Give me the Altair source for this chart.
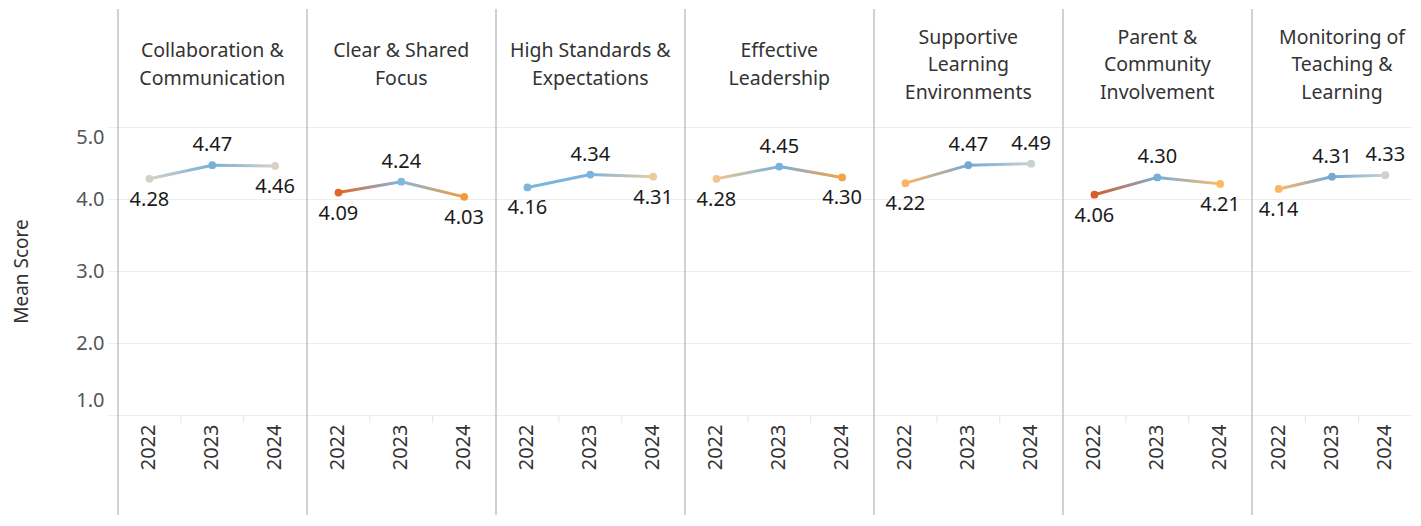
import altair as alt
import pandas as pd

categories = [
    "Collaboration &\nCommunication",
    "Clear & Shared\nFocus",
    "High Standards &\nExpectations",
    "Effective\nLeadership",
    "Supportive\nLearning\nEnvironments",
    "Parent &\nCommunity\nInvolvement",
    "Monitoring of\nTeaching &\nLearning",
]
years = ["2022", "2023", "2024"]
score_2022 = [4.28, 4.09, 4.16, 4.28, 4.22, 4.06, 4.14]
score_2023 = [4.47, 4.24, 4.34, 4.45, 4.47, 4.30, 4.31]
score_2024 = [4.46, 4.03, 4.31, 4.30, 4.49, 4.21, 4.33]
color_2022 = ["#d6d0c4", "#e0662a", "#7db4dc", "#f0c490", "#fbb664", "#d45f28", "#fbb664"]
color_2023 = ["#77b0d8", "#82b8de", "#7db4dc", "#7ab0dc", "#74a9d6", "#78aed8", "#74a9d6"]
color_2024 = ["#d8d1c2", "#f49a3e", "#eccba0", "#f6a248", "#c8d2d0", "#fcb962", "#ccd2cc"]
y_ticks = [1, 2, 3, 4, 5]

scores = [score_2022, score_2023, score_2024]
colors = [color_2022, color_2023, color_2024]

rows = []
for i, cat in enumerate(categories):
    for k, yr in enumerate(years):
        v = scores[k][i]
        above = k > 0 and v > scores[k - 1][i]
        rows.append({"idx": i, "cat": cat, "year": yr, "score": v,
                     "color": colors[k][i], "above": bool(above)})
df = pd.DataFrame(rows)

FONT = "Noto Sans"
W = 188.6          # panel width
W_LAST = 160       # last panel (cut by the window edge in the original)
H = 288
GRID = "#ededed"
LH = 27.5


def panel(i):
    last = i == len(categories) - 1
    pw = W_LAST if last else W
    d = df[df.idx == i]
    base = alt.Chart(d)
    x_scale = alt.Scale(type="band", paddingInner=0, paddingOuter=0, domain=years)
    x_axis = alt.Axis(title=None, labelAngle=-90, domain=False, ticks=False,
                      labelPadding=9, labelFontSize=20,
                      labelColor="#333333", labelFont=FONT, grid=False)
    x_enc = alt.X("year:O", scale=x_scale, axis=x_axis)
    x_edge = alt.X("year:O", scale=x_scale, axis=x_axis, bandPosition=0)
    y_scale = alt.Scale(domain=[1, 5], nice=False, zero=False)

    if i == 0:
        y_axis = alt.Axis(
            title="Mean Score", values=y_ticks, format=".1f",
            labelFontSize=20, labelColor="#555555", labelFont=FONT,
            labelPadding=4, tickSize=10, tickColor=GRID, domain=False,
            gridColor=GRID, titleFontSize=19, titleFontWeight="normal",
            titleColor="#333333", titleFont=FONT, titlePadding=44,
            labelOffset={"condition": [{"test": "datum.value == 5", "value": 10},
                                       {"test": "datum.value == 1", "value": -15}],
                         "value": 0},
        )
    else:
        y_axis = alt.Axis(title=None, values=y_ticks, labels=False,
                          ticks=False, domain=False, gridColor=GRID)
    y_enc = alt.Y("score:Q", scale=y_scale, axis=y_axis)

    layers = []
    divider = alt.Chart(pd.DataFrame({"a": [0]})).mark_rule(
        color="#b8b8b8", strokeWidth=1.3
    ).encode(x=alt.value(0), y=alt.value(-118), y2=alt.value(388))
    layers.append(divider)

    band_ticks = base.transform_filter(
        alt.FieldOneOfPredicate(field="year", oneOf=years[1:])
    ).mark_rule(color="#e3e3e3", strokeWidth=1).encode(
        x=x_edge, y=alt.value(H), y2=alt.value(H + 8)
    )
    layers.append(band_ticks)

    for a, b in [(0, 1), (1, 2)]:
        grad = alt.Gradient(
            gradient="linear",
            stops=[alt.GradientStop(offset=0, color=colors[a][i]),
                   alt.GradientStop(offset=1, color=colors[b][i])],
            x1=0, x2=1, y1=0, y2=0,
        )
        seg = base.transform_filter(
            alt.FieldOneOfPredicate(field="year", oneOf=[years[a], years[b]])
        ).mark_line(stroke=grad, strokeWidth=3).encode(x=x_enc, y=y_enc)
        layers.append(seg)

    pts = base.mark_point(filled=True, size=60, opacity=1).encode(
        x=x_enc, y=y_enc, color=alt.Color("color:N", scale=None)
    )
    layers.append(pts)

    lab_up = base.transform_filter("datum.above").mark_text(
        dy=-20, fontSize=20, font=FONT, color="#1a1a1a"
    ).encode(x=x_enc, y=y_enc, text=alt.Text("score:Q", format=".2f"))
    lab_dn = base.transform_filter("!datum.above").mark_text(
        dy=21, fontSize=20, font=FONT, color="#1a1a1a"
    ).encode(x=x_enc, y=y_enc, text=alt.Text("score:Q", format=".2f"))
    layers += [lab_up, lab_dn]

    n_lines = categories[i].count("\n") + 1
    header = alt.Chart(pd.DataFrame({"name": [categories[i]]})).mark_text(
        lineBreak="\n", fontSize=19.5, font=FONT, color="#333333",
        baseline="middle", align="center", lineHeight=LH,
        dy=-(n_lines - 1) * LH / 2
    ).encode(x=alt.value(min(W / 2, pw - 70)), y=alt.value(-62), text="name:N")
    layers.append(header)

    return alt.layer(*layers).properties(width=pw, height=H)


chart = alt.hconcat(*[panel(i) for i in range(len(categories))],
                    spacing=0, bounds="flush").properties(
    padding={"left": 4, "top": 0, "right": 0, "bottom": 0},
    background="white",
).configure_view(stroke=None)

chart.save("out.html", embed_options={"renderer": "svg", "actions": False})
